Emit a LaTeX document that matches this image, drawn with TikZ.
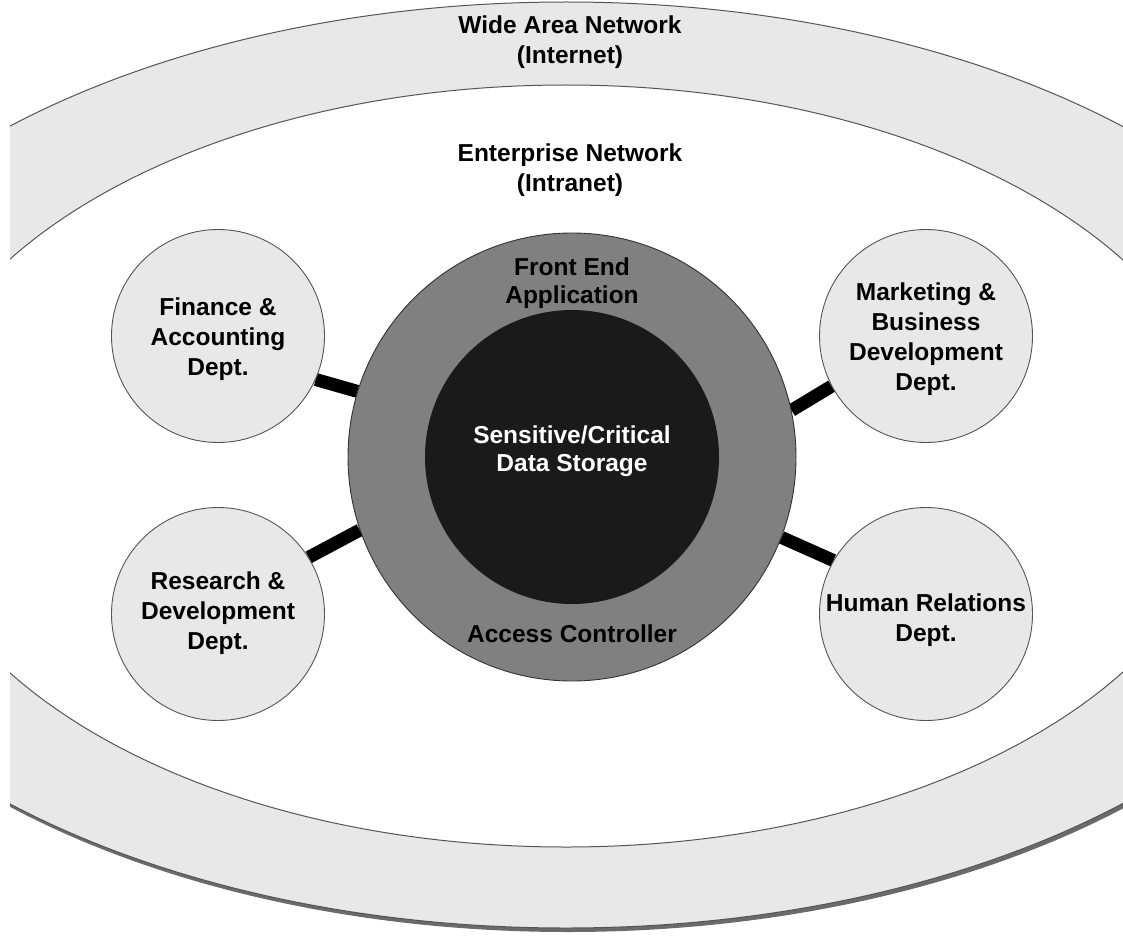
\documentclass[tikz,border=0pt]{standalone}
\usepackage{fontspec}
\setmainfont{Liberation Sans}

\definecolor{bandgray}{HTML}{E8E8E8}
\definecolor{ringgray}{HTML}{808080}
\definecolor{coreblack}{HTML}{1A1A1A}
\definecolor{edgegray}{HTML}{555555}
\definecolor{rimgray}{HTML}{333333}
\definecolor{shadowgray}{HTML}{6A6A6A}

\pgfdeclarelayer{zones}
\pgfdeclarelayer{links}
\pgfsetlayers{zones,links,main}

\begin{document}
\begin{tikzpicture}[x=1pt,y=-1pt,
  dept/.style={circle, draw=edgegray, line width=0.9pt, fill=bandgray,
    minimum size=213pt, inner sep=0pt},
  deptcaption/.style={align=center, inner sep=0pt,
    font=\bfseries\fontsize{24.5}{30}\selectfont},
  caption/.style={align=center, inner sep=0pt,
    font=\bfseries\fontsize{24.5}{29.5}\selectfont},
  ringcaption/.style={align=center, inner sep=0pt,
    font=\bfseries\fontsize{24.5}{28.5}\selectfont},
  link/.style={line width=13pt, black}]

\useasboundingbox (0,0) rectangle (1123,936);

% network zones: internet band and intranet area
\begin{pgfonlayer}{zones}
  \begin{scope}
    \clip (10,0) rectangle (1123,936);
    \fill[shadowgray] (568,469) ellipse [x radius=816, y radius=463];
    \filldraw[fill=bandgray, draw=edgegray, line width=1pt]
      (566,465) ellipse [x radius=816, y radius=463];
    \filldraw[fill=white, draw=edgegray, line width=1pt]
      (566,466) ellipse [x radius=662, y radius=381];
  \end{scope}
\end{pgfonlayer}

\node[caption] (wan) at (570,42) {Wide Area Network\\(Internet)};
\node[caption] (lan) at (570,170) {Enterprise Network\\(Intranet)};

% application ring around the protected storage
\node[circle, fill=ringgray, draw=rimgray, line width=0.9pt,
      minimum size=448pt, inner sep=0pt] (ring) at (572,457) {};
\node[circle, fill=coreblack, minimum size=294pt, inner sep=0pt] (vault) at (572,457) {};

\node[ringcaption] (front) at (572,283) {Front End\\Application};
\node[ringcaption, text=white] (store) at (572,451) {Sensitive/Critical\\Data Storage};
\node[ringcaption] (access) at (572,634) {Access Controller};

% departments
\node[dept] (fin) at (218,336) {};
\node[dept] (res) at (218,614) {};
\node[dept] (mkt) at (926,336) {};
\node[dept] (hum) at (926,614) {};

\node[deptcaption] (finlbl) at (218,339) {Finance \&\\Accounting\\Dept.};
\node[deptcaption] (reslbl) at (218,613) {Research \&\\Development\\Dept.};
\node[deptcaption] (mktlbl) at (926,339) {Marketing \&\\Business\\Development\\Dept.};
\node[deptcaption] (humlbl) at (926,620) {Human Relations\\Dept.};

% department links to the application ring
\begin{pgfonlayer}{links}
  \draw[link] (fin.-24) -- (ring.163.4);
  \draw[link] (res.32) -- (ring.199.8);
  \draw[link] (mkt.208) -- (ring.12.5);
  \draw[link] (hum.150) -- (ring.-21.8);
\end{pgfonlayer}

\end{tikzpicture}
\end{document}
